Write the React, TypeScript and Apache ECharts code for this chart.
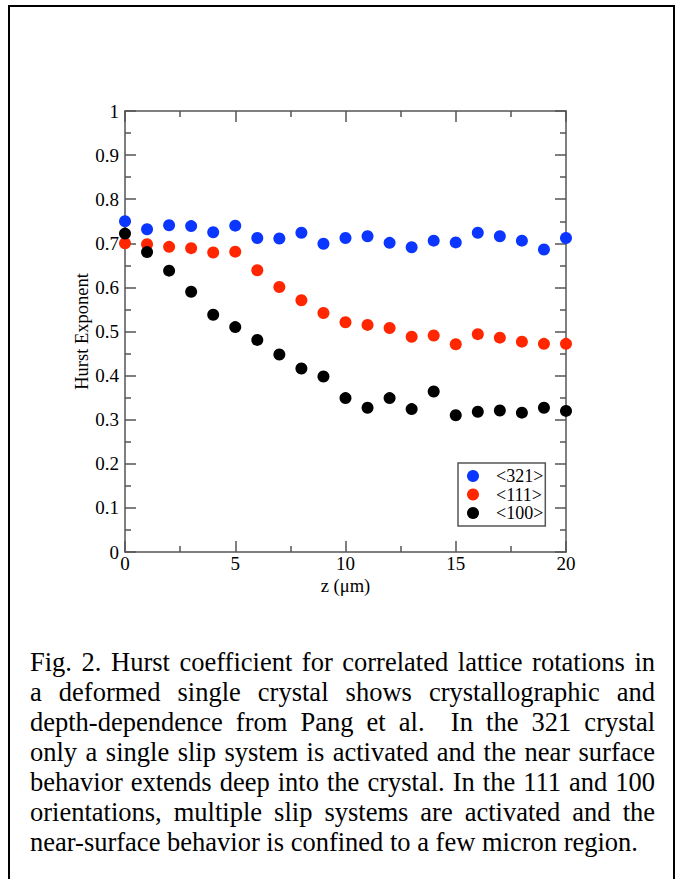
import React, { useEffect, useRef } from "react";
import * as echarts from "echarts";

const zDepth = [0, 1, 2, 3, 4, 5, 6, 7, 8, 9, 10, 11, 12, 13, 14, 15, 16, 17, 18, 19, 20];
const hurst321 = [0.75, 0.732, 0.741, 0.739, 0.725, 0.74, 0.712, 0.711, 0.724, 0.699, 0.712, 0.716, 0.701, 0.691, 0.706, 0.702, 0.724, 0.716, 0.706, 0.686, 0.712];
const hurst111 = [0.7, 0.698, 0.692, 0.689, 0.679, 0.681, 0.639, 0.601, 0.571, 0.542, 0.521, 0.515, 0.508, 0.488, 0.491, 0.471, 0.494, 0.486, 0.477, 0.472, 0.472];
const hurst100 = [0.722, 0.68, 0.638, 0.59, 0.538, 0.51, 0.481, 0.448, 0.416, 0.398, 0.349, 0.327, 0.349, 0.324, 0.364, 0.31, 0.318, 0.321, 0.316, 0.327, 0.32];
const seriesNames = ["<321>", "<111>", "<100>"];
const seriesColors = ["#0a36ff", "#ff2600", "#000000"];

const captionLines = [
  "Fig. 2. Hurst coefficient for correlated lattice rotations in",
  "a deformed single crystal shows crystallographic and",
  "depth-dependence from Pang et al.  In the 321 crystal",
  "only a single slip system is activated and the near surface",
  "behavior extends deep into the crystal. In the 111 and 100",
  "orientations, multiple slip systems are activated and the",
  "near-surface behavior is confined to a few micron region.",
];

const SERIF = "Liberation Serif";

export default function App() {
  const ref = useRef<HTMLDivElement>(null);
  useEffect(() => {
    document.body.style.margin = "0";
    const chart = echarts.init(ref.current!, null, { renderer: "svg" });

    // caption (justified)
    const canvas = document.createElement("canvas");
    const ctx = canvas.getContext("2d")!;
    const capSize = 26.5;
    ctx.font = `${capSize}px "Liberation Serif"`;
    const capLeft = 30;
    const capRight = 655;
    const spaceW = ctx.measureText(" ").width;
    const captionGraphics: any[] = [];
    captionLines.forEach((line, i) => {
      const tokens = line.split(" ");
      const widths = tokens.map((t) => (t ? ctx.measureText(t).width : 0));
      const sumW = widths.reduce((a, b) => a + b, 0);
      const gaps = tokens.length - 1;
      const justify = i < captionLines.length - 1;
      const gap = justify ? Math.max(spaceW * 0.6, (capRight - capLeft - sumW) / gaps) : spaceW;
      let x = capLeft;
      tokens.forEach((t, k) => {
        if (t) {
          captionGraphics.push({
            type: "text",
            x,
            y: 662 + i * 30,
            style: {
              text: t,
              fontSize: capSize,
              fontFamily: SERIF,
              fill: "#000",
              verticalAlign: "middle",
              align: "left",
            },
          });
        }
        x += widths[k] + gap;
      });
    });

    const axisColor = "#555";
    const lineStyle = { color: axisColor, width: 1.5 };
    const labelStyle = { fontSize: 19, fontFamily: SERIF, color: "#000" };

    const makeX = (pos: string, main: boolean) => ({
      type: "value",
      min: 0,
      max: 20,
      interval: 5,
      position: pos,
      axisLine: { show: true, onZero: false, lineStyle },
      axisTick: { show: true, inside: true, length: 11, lineStyle },
      minorTick: { show: true, splitNumber: 2, length: 6, lineStyle },
      splitLine: { show: false },
      minorSplitLine: { show: false },
      axisLabel: main ? { ...labelStyle, margin: 2 } : { show: false },
      name: main ? "z (μm)" : "",
      nameLocation: "middle",
      nameGap: 24,
      nameMoveOverlap: false,
      nameTextStyle: { fontSize: 18.5, fontFamily: SERIF, color: "#000" },
    });
    const makeY = (pos: string, main: boolean) => ({
      type: "value",
      min: 0,
      max: 1,
      interval: 0.1,
      position: pos,
      axisLine: { show: true, onZero: false, lineStyle },
      axisTick: { show: true, inside: true, length: 11, lineStyle },
      minorTick: { show: true, splitNumber: 2, length: 6, lineStyle },
      splitLine: { show: false },
      minorSplitLine: { show: false },
      axisLabel: main ? { ...labelStyle, margin: 6 } : { show: false },
      name: main ? "Hurst Exponent" : "",
      nameLocation: "middle",
      nameRotate: 90,
      nameGap: 34,
      nameMoveOverlap: false,
      nameTextStyle: { fontSize: 18.5, fontFamily: SERIF, color: "#000" },
    });

    const dataSets = [hurst321, hurst111, hurst100];

    chart.setOption({
      animation: false,
      backgroundColor: "#fff",
      grid: { left: 125, right: 112, top: 111, bottom: 327, containLabel: false },
      xAxis: [makeX("bottom", true), makeX("top", false)],
      yAxis: [makeY("left", true), makeY("right", false)],
      legend: {
        data: seriesNames,
        orient: "vertical",
        left: 458,
        top: 463,
        padding: [4, 2, 4, 9],
        itemWidth: 36,
        itemHeight: 12,
        itemGap: 0.5,
        icon: "circle",
        borderColor: axisColor,
        borderWidth: 1.5,
        textStyle: { fontSize: 18, lineHeight: 18, fontFamily: SERIF, color: "#000" },
      },
      series: seriesNames.map((name, s) => ({
        name,
        type: "scatter",
        xAxisIndex: 0,
        yAxisIndex: 0,
        symbol: "circle",
        symbolSize: 12,
        itemStyle: { color: seriesColors[s], opacity: 1 },
        data: zDepth.map((z, i) => [z, dataSets[s][i]]),
        z: 2 + s,
      })),
      graphic: [
        {
          type: "rect",
          shape: { x: 9, y: 6, width: 665, height: 900 },
          style: { fill: "none", stroke: "#000", lineWidth: 2 },
          silent: true,
        },
        ...captionGraphics,
      ],
    });
    return () => chart.dispose();
  }, []);
  return <div ref={ref} style={{ width: 678, height: 879 }} />;
}
